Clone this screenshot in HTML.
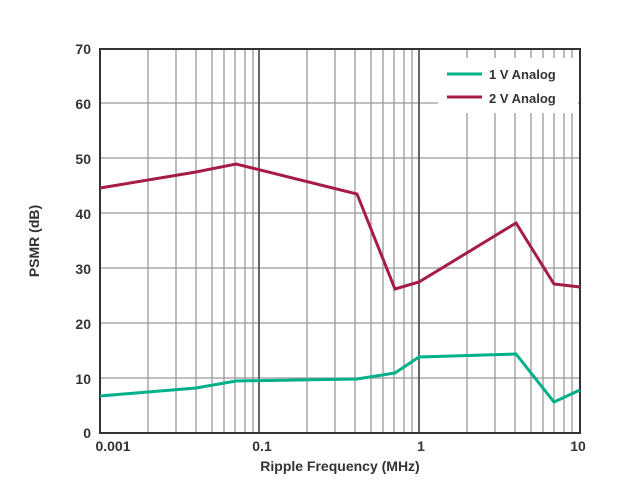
<!DOCTYPE html><html><head><style>body{margin:0;background:#fff}</style></head><body>
<svg width="623" height="483" xmlns="http://www.w3.org/2000/svg" font-family="Liberation Sans, sans-serif" font-weight="bold" fill="#333">
<g stroke="#999" stroke-width="1.3">
<line x1="148" y1="49" x2="148" y2="433"/><line x1="176" y1="49" x2="176" y2="433"/><line x1="196" y1="49" x2="196" y2="433"/><line x1="212" y1="49" x2="212" y2="433"/><line x1="224" y1="49" x2="224" y2="433"/><line x1="235" y1="49" x2="235" y2="433"/><line x1="245" y1="49" x2="245" y2="433"/><line x1="253" y1="49" x2="253" y2="433"/>
<line x1="307" y1="49" x2="307" y2="433"/><line x1="335" y1="49" x2="335" y2="433"/><line x1="355" y1="49" x2="355" y2="433"/><line x1="371" y1="49" x2="371" y2="433"/><line x1="383" y1="49" x2="383" y2="433"/><line x1="394" y1="49" x2="394" y2="433"/><line x1="404" y1="49" x2="404" y2="433"/><line x1="412" y1="49" x2="412" y2="433"/>
<line x1="467" y1="49" x2="467" y2="433"/><line x1="495" y1="49" x2="495" y2="433"/><line x1="515" y1="49" x2="515" y2="433"/><line x1="531" y1="49" x2="531" y2="433"/><line x1="543" y1="49" x2="543" y2="433"/><line x1="554" y1="49" x2="554" y2="433"/><line x1="564" y1="49" x2="564" y2="433"/><line x1="572" y1="49" x2="572" y2="433"/>
<line x1="100" y1="103" x2="580" y2="103"/><line x1="100" y1="158" x2="580" y2="158"/><line x1="100" y1="213" x2="580" y2="213"/><line x1="100" y1="268" x2="580" y2="268"/><line x1="100" y1="323" x2="580" y2="323"/><line x1="100" y1="378" x2="580" y2="378"/>
</g>
<g stroke="#555" stroke-width="1.8"><line x1="259" y1="49" x2="259" y2="433"/><line x1="419" y1="49" x2="419" y2="433"/></g>
<rect x="438" y="58" width="140" height="55" fill="#fff"/>
<rect x="100" y="49" width="480" height="384" fill="none" stroke="#333" stroke-width="2"/>
<polyline fill="none" stroke="#a51c45" stroke-width="3" points="100,188 196,172 236,164 357,194 395,289 419,282 516,223 554,284 580,287"/>
<polyline fill="none" stroke="#00b08a" stroke-width="3" points="100,396 196,388 236,381 357,379 395,373 419,357 516,354 554,402 580,390"/>
<line x1="447" y1="74" x2="482" y2="74" stroke="#00b08a" stroke-width="3"/>
<line x1="447" y1="97" x2="482" y2="97" stroke="#a51c45" stroke-width="3"/>
<g font-size="13"><text x="489" y="79">1 V Analog</text><text x="489" y="103">2 V Analog</text></g>
<g font-size="14" text-anchor="end">
<text x="91" y="54">70</text><text x="91" y="109">60</text><text x="91" y="164">50</text><text x="91" y="219">40</text><text x="91" y="274">30</text><text x="91" y="329">20</text><text x="91" y="384">10</text><text x="91" y="438">0</text></g>
<g font-size="14" text-anchor="middle">
<text x="113" y="451">0.001</text><text x="262" y="451">0.1</text><text x="421" y="451">1</text><text x="578" y="451">10</text>
<text x="340" y="471">Ripple Frequency (MHz)</text>
<text transform="translate(39,241) rotate(-90)">PSMR (dB)</text></g>
</svg></body></html>
